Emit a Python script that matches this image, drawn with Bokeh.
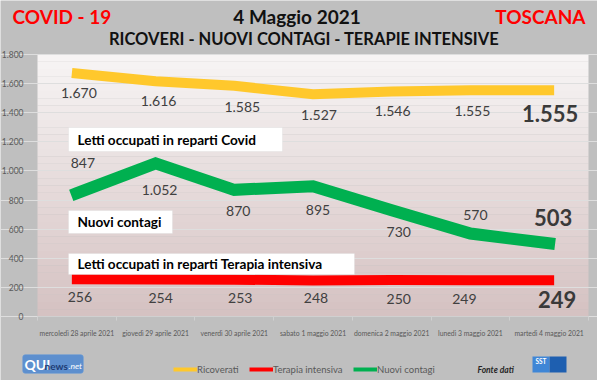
from bokeh.plotting import figure
from bokeh.models import (ColumnDataSource, Range1d, BoxAnnotation, Label, Legend, LegendItem,
                          CustomJSTickFormatter, FixedTicker)
from bokeh.core.properties import value
from bokeh.embed import file_html
from bokeh.resources import INLINE

# ---------------- data ----------------
days = ["mercoledì 28 aprile 2021", "giovedì 29 aprile 2021", "venerdì 30 aprile 2021",
        "sabato 1 maggio 2021", "domenica 2 maggio 2021", "lunedì 3 maggio 2021",
        "martedì 4 maggio 2021"]
ricoverati = [1670, 1616, 1585, 1527, 1546, 1555, 1555]
nuovi_contagi = [847, 1052, 870, 895, 730, 570, 503]
terapia_intensiva = [256, 254, 253, 248, 250, 249, 249]
y_ticks = [0, 200, 400, 600, 800, 1000, 1200, 1400, 1600, 1800]
series_names = ["Ricoverati", "Terapia intensiva", "Nuovi contagi"]

# ---------------- styles / layout ----------------
FONT = "Lato"
BG = "#bfbfbf"
YELLOW = "#FFC82C"
RED = "#FF0000"
GREEN = "#00B050"
LABEL_COLOR = "#404040"
W, H = 597, 380
PLOT_L, PLOT_R, PLOT_T, PLOT_B = 37, 588, 54, 316      # plot area in page pixels
Y_MAX = 1800
LEGEND_X = [173, 249, 353]                             # legend entry left edges (px)
# label offsets (screen px) for the first six points of each series, and for the last one
yel_dx = [2, 3, 8, 6, 1, 2]; yel_dy = [20, 20, 21, 21, 20, 21]; yel_last = (1, 23)
grn_dx = [6, 4, 4, 5, 7, 5]; grn_dy = [-30, 27, 21, 24, 22, -19]; grn_last = (4, -26)
red_dx = [3, 5, 6, 3, 7, -6]; red_dy = [18, 18, 18, 18, 19, 19]; red_last = (8, 19)


def fmt(v):
    return f"{v:,}".replace(",", ".")


n = len(days)
xs = list(range(n))                       # category positions
bw = (PLOT_R - PLOT_L) / n                # band width in px
upx = Y_MAX / (PLOT_B - PLOT_T)           # data units per px (y)
x_range = Range1d(-0.5 - PLOT_L / bw, -0.5 + (W - PLOT_L) / bw)
y_range = Range1d(-(H - PLOT_B) * upx, Y_MAX + PLOT_T * upx)

p = figure(width=W, height=H, output_backend="svg", toolbar_location=None,
           x_range=x_range, y_range=y_range,
           min_border_left=0, min_border_right=0, min_border_top=0, min_border_bottom=0)
p.title.visible = False
p.border_fill_color = BG
p.background_fill_color = BG
p.outline_line_color = None

# plot-area vertical gradient (white at top -> pinkish grey at bottom)
top_c = (247, 245, 245)
bot_c = (213, 193, 193)
n_bands = 36
for i in range(n_bands):
    t = (i + 0.5) / n_bands
    c = tuple(int(round(bot_c[k] + (top_c[k] - bot_c[k]) * t)) for k in range(3))
    p.add_layout(BoxAnnotation(left=-0.5, right=n - 0.5,
                               bottom=Y_MAX * i / n_bands, top=Y_MAX * (i + 1) / n_bands,
                               fill_color="#%02x%02x%02x" % c, fill_alpha=1,
                               line_color=None, level="image"))

# axes drawn at fixed locations inside the frame
p.yaxis.fixed_location = -0.5
p.yaxis.ticker = FixedTicker(ticks=y_ticks)
p.yaxis.bounds = (0, Y_MAX)
p.yaxis.formatter = CustomJSTickFormatter(code="""
  const v = Math.round(tick);
  if (v >= 1000) { return Math.floor(v/1000) + '.' + String(v % 1000).padStart(3, '0'); }
  return String(v);
""")
p.yaxis.axis_line_color = None
p.yaxis.major_tick_line_color = None
p.yaxis.minor_tick_line_color = None
p.yaxis.major_label_standoff = 8
p.yaxis.major_label_text_font = FONT
p.yaxis.major_label_text_font_size = "8.5px"
p.yaxis.major_label_text_color = "#595959"

p.xaxis.fixed_location = 0
p.xaxis.ticker = FixedTicker(ticks=xs, minor_ticks=[i - 0.5 for i in range(n + 1)])
p.xaxis.major_label_overrides = {i: d for i, d in zip(xs, days)}
p.xaxis.bounds = (-0.5, n - 0.5)
p.xaxis.axis_line_color = "#d0d0d0"
p.xaxis.major_tick_line_color = None
p.xaxis.minor_tick_line_color = "#d0d0d0"
p.xaxis.minor_tick_in = 0
p.xaxis.minor_tick_out = 4
p.xaxis.major_label_standoff = 6
p.xaxis.major_label_text_font = FONT
p.xaxis.major_label_text_font_size = "6.8px"
p.xaxis.major_label_text_color = "#595959"

p.ygrid.grid_line_color = "#dedede"
p.ygrid.bounds = (-0.5, n - 0.5)
p.xgrid.grid_line_color = None

# series
for vals, col, lw in [(ricoverati, YELLOW, 10), (terapia_intensiva, RED, 10),
                      (nuovi_contagi, GREEN, 12)]:
    p.line(x=xs, y=vals, line_color=col, line_width=lw, line_cap="square", line_join="miter")

for vals, dx, dy, last in [(ricoverati, yel_dx, yel_dy, yel_last),
                           (nuovi_contagi, grn_dx, grn_dy, grn_last),
                           (terapia_intensiva, red_dx, red_dy, red_last)]:
    src = ColumnDataSource(dict(x=xs[:-1], y=vals[:-1], t=[fmt(v) for v in vals[:-1]],
                                dx=dx, dy=dy))
    p.text(x="x", y="y", text="t", x_offset="dx", y_offset="dy", source=src,
           text_align="center", text_baseline="middle", text_font=value(FONT),
           text_font_size="14px", text_color=LABEL_COLOR)
    p.text(x=[xs[-1]], y=[vals[-1]], text=[fmt(vals[-1])], x_offset=last[0], y_offset=last[1],
           text_align="center", text_baseline="middle", text_font=value(FONT),
           text_font_size="22px", text_font_style="bold", text_color="#3a3a3a")


def sy(y):  # page y (from top) -> frame screen y (from bottom)
    return H - y


def box(l, r, t, b, color, line=None, radius=0):
    p.add_layout(BoxAnnotation(left=l, right=r, top=sy(t), bottom=sy(b), left_units="screen",
                               right_units="screen", bottom_units="screen", top_units="screen",
                               fill_color=color, fill_alpha=1, line_color=line,
                               border_radius=radius))


def label(x, y, txt, size, color, style="normal", align="left"):
    p.add_layout(Label(x=x, y=sy(y), x_units="screen", y_units="screen", text=txt,
                       text_font=FONT, text_font_size=size, text_font_style=style,
                       text_color=color, text_baseline="middle", text_align=align))


# white series-name boxes
for txt, l, r, t, b in [("Letti occupati in reparti Covid", 68, 282, 127, 151),
                        ("Nuovi contagi", 68, 172, 210, 233),
                        ("Letti occupati in reparti Terapia intensiva", 68, 354, 253, 274)]:
    box(l, r, t, b, "white", line="#d8d8d8")
    label(77, (t + b) / 2, txt, "13.6px", "black", "bold")

# header
label(12, 16, "COVID - 19", "19px", RED, "bold")
label(296.5, 16, "4 Maggio 2021", "19px", "#111111", "bold", "center")
label(585, 16, "TOSCANA", "19px", RED, "bold", "right")
label(303.5, 38.5, "RICOVERI - NUOVI CONTAGI - TERAPIE INTENSIVE", "16.5px", "#111111",
      "bold", "center")

# legend: one entry per Legend, thin proxy lines with no visible points
for name, col, lx in zip(series_names, [YELLOW, RED, GREEN], LEGEND_X):
    r = p.line(x=[0], y=[float("nan")], line_color=col, line_width=4)
    p.add_layout(Legend(items=[LegendItem(label=name, renderers=[r])], location=(lx, sy(369) - 6),
                        glyph_width=24, glyph_height=12, label_height=12, label_standoff=0,
                        padding=0, margin=0, border_line_color=None, background_fill_alpha=0,
                        label_text_font=FONT, label_text_font_size="9.5px",
                        label_text_color="#595959"))

label(477, 369, "Fonte dati", "8.5px", "#262626", "bold italic")

# QUInews logo
box(22, 83, 354, 373, "#5d8fce", line="#7ea8dc", radius=3)
label(24, 363.5, "QUI", "14px", "white", "bold")
label(44, 365, "news", "10px", "#1d3c74", "bold")
label(68, 365, ".net", "8.5px", "white", "italic")

# SST logo
box(532, 549, 356, 372, "#3f86d6")
box(549, 566, 356, 372, "#1e5fb0")
label(540.5, 361, "SST", "6.5px", "white", "bold", "center")

open("out.html", "w").write(file_html(p, INLINE))
